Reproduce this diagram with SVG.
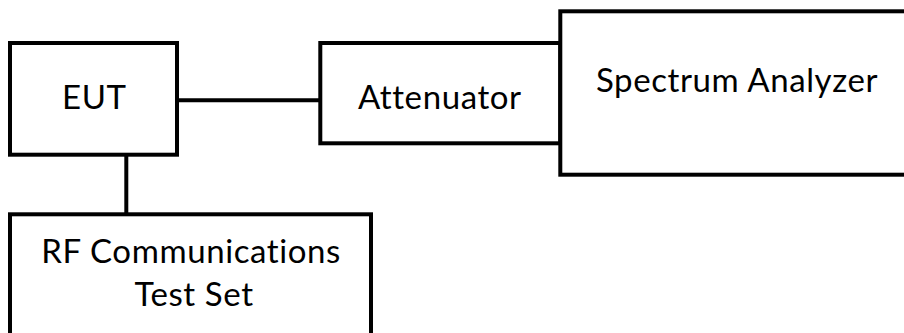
<svg xmlns="http://www.w3.org/2000/svg" width="904" height="333" viewBox="0 0 904 333">
<style>
.box{fill:#fff;stroke:#000;stroke-width:4}
.wire{fill:none;stroke:#000;stroke-width:4}
.lbl{font-family:Lato,"Liberation Sans",sans-serif;font-size:33px;letter-spacing:0.6px;font-variant-ligatures:none;font-feature-settings:"liga" 0;fill:#000;text-anchor:middle}
</style>
<rect width="904" height="333" fill="#fff"/>
<g id="connectors">
<line class="wire" x1="177" y1="100.3" x2="320" y2="100.3"/>
<line class="wire" x1="126.3" y1="154.7" x2="126.3" y2="214.3"/>
</g>
<g id="eut">
<rect class="box" x="10" y="43" width="167" height="111.7"/>
<text class="lbl" x="94.3" y="109">EUT</text>
</g>
<g id="attenuator">
<rect class="box" x="320.3" y="43" width="240" height="100.3"/>
<text class="lbl" x="439.8" y="109.3">Attenuator</text>
</g>
<g id="spectrum-analyzer">
<rect class="box" x="560.3" y="11.3" width="360" height="163.4"/>
<text class="lbl" x="737" y="91.7">Spectrum Analyzer</text>
</g>
<g id="rf-test-set">
<rect class="box" x="10" y="214.3" width="361" height="140"/>
<text class="lbl" x="191.1" y="262.7">RF Communications</text>
<text class="lbl" x="194" y="306">Test Set</text>
</g>
</svg>
